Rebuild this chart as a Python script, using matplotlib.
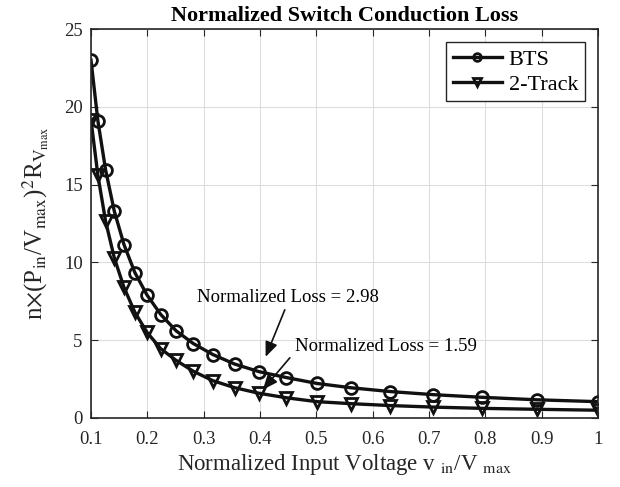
import numpy as np
import matplotlib
matplotlib.use("Agg")
import matplotlib.pyplot as plt

plt.rcParams["font.family"] = ["Liberation Serif", "DejaVu Serif"]
plt.rcParams["mathtext.fontset"] = "stix"

# normalized input voltage (log spaced points)
vin = [0.1, 0.1122, 0.1259, 0.1413, 0.1585, 0.1778, 0.1995, 0.2239, 0.2512,
       0.2818, 0.3162, 0.3548, 0.3981, 0.4467, 0.5012, 0.5623, 0.631, 0.7079,
       0.7943, 0.8913, 1.0]
bts = [23.0, 19.1, 15.95, 13.3, 11.15, 9.35, 7.9, 6.65, 5.6, 4.78, 4.08, 3.47,
       2.98, 2.6, 2.22, 1.94, 1.7, 1.5, 1.33, 1.17, 1.05]
two_track = [19.15, 15.6, 12.65, 10.3, 8.4, 6.8, 5.5, 4.45, 3.7, 3.0, 2.4, 1.95,
             1.59, 1.3, 1.05, 0.92, 0.8, 0.7, 0.62, 0.56, 0.5]

fig = plt.figure(figsize=(6.2, 4.87), dpi=100)
ax = fig.add_axes([91/620, 1 - 418/487, (598-91)/620, (418-29)/487])

ax.plot(vin, bts, "-o", color="#111111", lw=2.4, ms=8.5, mew=2,
        mfc="none", label="BTS")
ax.plot(vin, two_track, "-v", color="#111111", lw=2.4, ms=8.5, mew=2,
        mfc="none", label="2-Track")

ax.set_xlim(0.1, 1)
ax.set_ylim(0, 25)
ax.set_xticks([0.1, 0.2, 0.3, 0.4, 0.5, 0.6, 0.7, 0.8, 0.9, 1])
ax.set_xticklabels(["0.1", "0.2", "0.3", "0.4", "0.5", "0.6", "0.7", "0.8", "0.9", "1"])
ax.set_yticks([0, 5, 10, 15, 20, 25])
ax.grid(True, color="#dddddd", lw=0.8)
ax.tick_params(direction="in", labelsize=13.5, colors="#262626", top=True, right=True,
               length=5)
ax.tick_params(axis="x", pad=9)
ax.tick_params(axis="y", pad=6)
for s in ax.spines.values():
    s.set_color("#262626")
    s.set_linewidth(1.2)

ax.set_title("Normalized Switch Conduction Loss", fontsize=16, fontweight="bold", pad=6)
ax.set_xlabel(r"Normalized Input Voltage v $_{\rm in}$/V $_{\rm max}$", fontsize=16.5,
              color="#262626", labelpad=3)
ax.set_ylabel(r"n$\times$(P$_{\rm in}$/V$_{\rm max}$)$^2$R$_{\rm V_{max}}$", fontsize=18,
              color="#262626", labelpad=9)

ax.text(0.288, 7.72, "Normalized Loss = 2.98", fontsize=13.5, ha="left", va="center")
ax.text(0.463, 4.58, "Normalized Loss = 1.59", fontsize=13.5, ha="left", va="center")
ax.annotate("", xy=(0.41, 3.93), xytext=(0.444, 6.95),
            arrowprops=dict(arrowstyle="-|>,head_length=0.6,head_width=0.25",
                            color="#111111", lw=1.2, mutation_scale=15,
                            shrinkA=0, shrinkB=0))
ax.annotate("", xy=(0.405, 1.82), xytext=(0.453, 3.87),
            arrowprops=dict(arrowstyle="-|>,head_length=0.6,head_width=0.25",
                            color="#111111", lw=1.2, mutation_scale=15,
                            shrinkA=0, shrinkB=0))

leg = ax.legend(loc="upper right", fontsize=16, fancybox=False, framealpha=1,
                edgecolor="#262626", handlelength=2.2, borderaxespad=0.6,
                markerscale=0.65, handletextpad=0.3, borderpad=0.3, labelspacing=0.2)
leg.get_frame().set_linewidth(1.0)

fig.savefig("out.png", dpi=100)
